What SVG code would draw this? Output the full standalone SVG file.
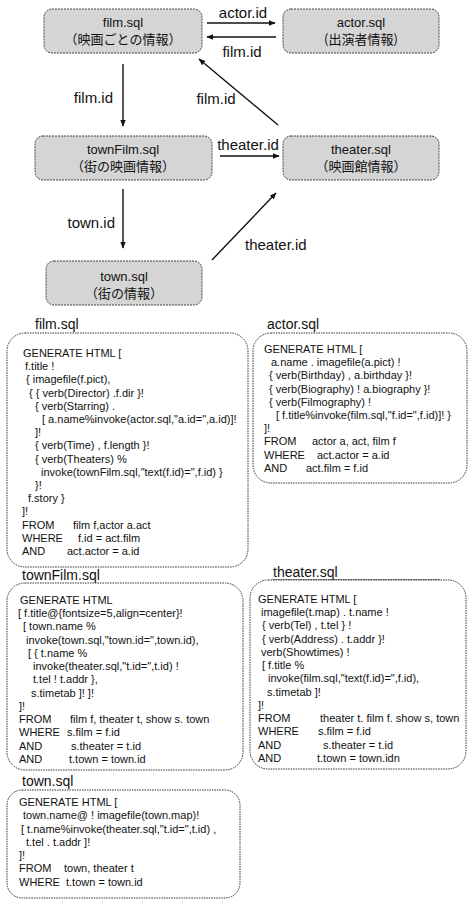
<svg xmlns="http://www.w3.org/2000/svg" width="469" height="901" viewBox="0 0 469 901">
<style>
.bg{fill:#fff}
.node{fill:#d5d5d5;stroke:#444;stroke-width:1;stroke-dasharray:2 1}
.nt{font-family:"Liberation Sans",Arial,sans-serif;font-size:13px;fill:#111;text-anchor:middle}
.nj{font-family:"Noto Sans CJK JP","Noto Sans CJK SC",sans-serif;font-size:13px;fill:#111;text-anchor:middle}
.el{font-family:"Liberation Sans",Arial,sans-serif;font-size:15px;fill:#111}
.edge{stroke:#111;stroke-width:1.4;fill:none;marker-end:url(#ah)}
.box{fill:#fff;stroke:#333;stroke-width:1;stroke-dasharray:1.5 1}
.hd{font-family:"Liberation Sans",Arial,sans-serif;font-size:14px;fill:#111}
.cd{font-family:"Liberation Sans",Arial,sans-serif;font-size:11px;fill:#111}
</style>
<defs>
<marker id="ah" viewBox="0 0 10 10" refX="9" refY="5" markerWidth="7" markerHeight="7" markerUnits="userSpaceOnUse" orient="auto">
<path d="M0,1 L10,5 L0,9 z" fill="#111"/>
</marker>
</defs>
<rect class="bg" x="0" y="0" width="469" height="901"/>

<g id="connectors">
<line class="edge" x1="207" y1="23" x2="275" y2="23"/>
<line class="edge" x1="276" y1="37" x2="207" y2="37"/>
<line class="edge" x1="123" y1="64" x2="123" y2="126"/>
<line class="edge" x1="278" y1="125" x2="199" y2="59"/>
<line class="edge" x1="220" y1="156" x2="279" y2="156"/>
<line class="edge" x1="123" y1="189" x2="123" y2="248"/>
<line class="edge" x1="212" y1="260" x2="276" y2="193"/>
<text class="el" x="243" y="18" text-anchor="middle">actor.id</text>
<text class="el" x="242" y="57" text-anchor="middle">film.id</text>
<text class="el" x="113" y="103" text-anchor="end">film.id</text>
<text class="el" x="216" y="104" text-anchor="middle">film.id</text>
<text class="el" x="248" y="150" text-anchor="middle">theater.id</text>
<text class="el" x="115" y="228" text-anchor="end">town.id</text>
<text class="el" x="245" y="250">theater.id</text>
</g>

<g id="film">
<rect class="node" x="44" y="9" width="158" height="44" rx="8"/>
<text class="nt" x="123" y="27">film.sql</text>
<text class="nj" x="123" y="44">（映画ごとの情報）</text>
</g>
<g id="actor">
<rect class="node" x="283" y="9" width="156" height="44" rx="8"/>
<text class="nt" x="361" y="27">actor.sql</text>
<text class="nj" x="361" y="44">(出演者情報)</text>
</g>
<g id="townFilm">
<rect class="node" x="35" y="136" width="177" height="44" rx="8"/>
<text class="nt" x="123" y="154">townFilm.sql</text>
<text class="nj" x="123" y="171">（街の映画情報）</text>
</g>
<g id="theater">
<rect class="node" x="283" y="136" width="156" height="44" rx="8"/>
<text class="nt" x="361" y="154">theater.sql</text>
<text class="nj" x="361" y="171">（映画館情報）</text>
</g>
<g id="town">
<rect class="node" x="46" y="261" width="156" height="44" rx="8"/>
<text class="nt" x="124" y="281">town.sql</text>
<text class="nj" x="124" y="298">（街の情報）</text>
</g>

<g id="code-film">
<text class="hd" x="35" y="329">film.sql</text>
<rect class="box" x="7" y="333" width="241" height="234" rx="18"/>
<text class="cd" x="23" y="357">GENERATE HTML [</text>
<text class="cd" x="25" y="370">f.title !</text>
<text class="cd" x="26" y="383">{ imagefile(f.pict),</text>
<text class="cd" x="29" y="397">{ { verb(Director) .f.dir }!</text>
<text class="cd" x="35" y="410">{ verb(Starring) .</text>
<text class="cd" x="42" y="423">[ a.name%invoke(actor.sql,"a.id=",a.id)]!</text>
<text class="cd" x="35" y="436">]!</text>
<text class="cd" x="35" y="449">{ verb(Time) , f.length }!</text>
<text class="cd" x="35" y="463">{ verb(Theaters) %</text>
<text class="cd" x="41" y="476">invoke(townFilm.sql,"text(f.id)=",f.id) }</text>
<text class="cd" x="35" y="489">}!</text>
<text class="cd" x="28" y="502">f.story }</text>
<text class="cd" x="22" y="515">]!</text>
<text class="cd" x="22" y="529">FROM<tspan x="73">film f,actor a.act</tspan></text>
<text class="cd" x="22" y="542">WHERE<tspan x="78">f.id = act.film</tspan></text>
<text class="cd" x="22" y="555">AND<tspan x="67">act.actor = a.id</tspan></text>
</g>

<g id="code-actor">
<text class="hd" x="267" y="329">actor.sql</text>
<rect class="box" x="253" y="333" width="214" height="150" rx="18"/>
<text class="cd" x="264" y="353">GENERATE HTML [</text>
<text class="cd" x="271" y="366">a.name . imagefile(a.pict) !</text>
<text class="cd" x="269" y="379">{ verb(Birthday) , a.birthday }!</text>
<text class="cd" x="269" y="393">{ verb(Biography) ! a.biography }!</text>
<text class="cd" x="269" y="406">{ verb(Filmography) !</text>
<text class="cd" x="276" y="419">[ f.title%invoke(film.sql,"f.id=",f.id)]! }</text>
<text class="cd" x="264" y="432">]!</text>
<text class="cd" x="264" y="445">FROM<tspan x="312">actor a, act, film f</tspan></text>
<text class="cd" x="264" y="459">WHERE<tspan x="317">act.actor = a.id</tspan></text>
<text class="cd" x="264" y="472">AND<tspan x="306">act.film = f.id</tspan></text>
</g>

<g id="code-townFilm">
<text class="hd" x="22" y="580">townFilm.sql</text>
<rect class="box" x="7" y="583" width="236" height="187" rx="18"/>
<text class="cd" x="20" y="604">GENERATE HTML</text>
<text class="cd" x="18" y="617">[ f.title@{fontsize=5,align=center}!</text>
<text class="cd" x="23" y="630">[ town.name %</text>
<text class="cd" x="26" y="644">invoke(town.sql,"town.id=",town.id),</text>
<text class="cd" x="28" y="657">[ { t.name %</text>
<text class="cd" x="33" y="670">invoke(theater.sql,"t.id=",t.id) !</text>
<text class="cd" x="33" y="683">t.tel ! t.addr },</text>
<text class="cd" x="31" y="697">s.timetab ]! ]!</text>
<text class="cd" x="19" y="710">]!</text>
<text class="cd" x="19" y="723">FROM<tspan x="70">film f, theater t, show s. town</tspan></text>
<text class="cd" x="19" y="736">WHERE<tspan x="67">s.film = f.id</tspan></text>
<text class="cd" x="19" y="750">AND<tspan x="71">s.theater = t.id</tspan></text>
<text class="cd" x="19" y="763">AND<tspan x="69">t.town = town.id</tspan></text>
</g>

<g id="code-theater">
<text class="hd" x="273" y="577">theater.sql</text>
<line x1="272" y1="580" x2="440" y2="580" stroke="#222" stroke-width="1"/>
<rect class="box" x="250" y="580" width="216" height="189" rx="18"/>
<text class="cd" x="258" y="603">GENERATE HTML [</text>
<text class="cd" x="261" y="616">imagefile(t.map) . t.name !</text>
<text class="cd" x="262" y="629">{ verb(Tel) , t.tel } !</text>
<text class="cd" x="262" y="643">{ verb(Address) . t.addr }!</text>
<text class="cd" x="261" y="656">verb(Showtimes) !</text>
<text class="cd" x="262" y="669">[ f.title %</text>
<text class="cd" x="268" y="682">invoke(film.sql,"text(f.id)=",f.id),</text>
<text class="cd" x="267" y="696">s.timetab ]!</text>
<text class="cd" x="258" y="709">]!</text>
<text class="cd" x="258" y="722">FROM<tspan x="320">theater t. film f. show s, town</tspan></text>
<text class="cd" x="258" y="735">WHERE<tspan x="318">s.film = f.id</tspan></text>
<text class="cd" x="258" y="749">AND<tspan x="323">s.theater = t.id</tspan></text>
<text class="cd" x="258" y="762">AND<tspan x="317">t.town = town.idn</tspan></text>
</g>

<g id="code-town">
<text class="hd" x="22" y="786">town.sql</text>
<rect class="box" x="7" y="790" width="233" height="108" rx="15"/>
<text class="cd" x="19" y="806">GENERATE HTML [</text>
<text class="cd" x="23" y="819">town.name@ ! imagefile(town.map)!</text>
<text class="cd" x="21" y="833">[ t.name%invoke(theater.sql,"t.id=",t.id) ,</text>
<text class="cd" x="26" y="846">t.tel . t.addr ]!</text>
<text class="cd" x="19" y="859">]!</text>
<text class="cd" x="19" y="872">FROM<tspan x="64">town, theater t</tspan></text>
<text class="cd" x="19" y="886">WHERE<tspan x="66">t.town = town.id</tspan></text>
</g>
</svg>
